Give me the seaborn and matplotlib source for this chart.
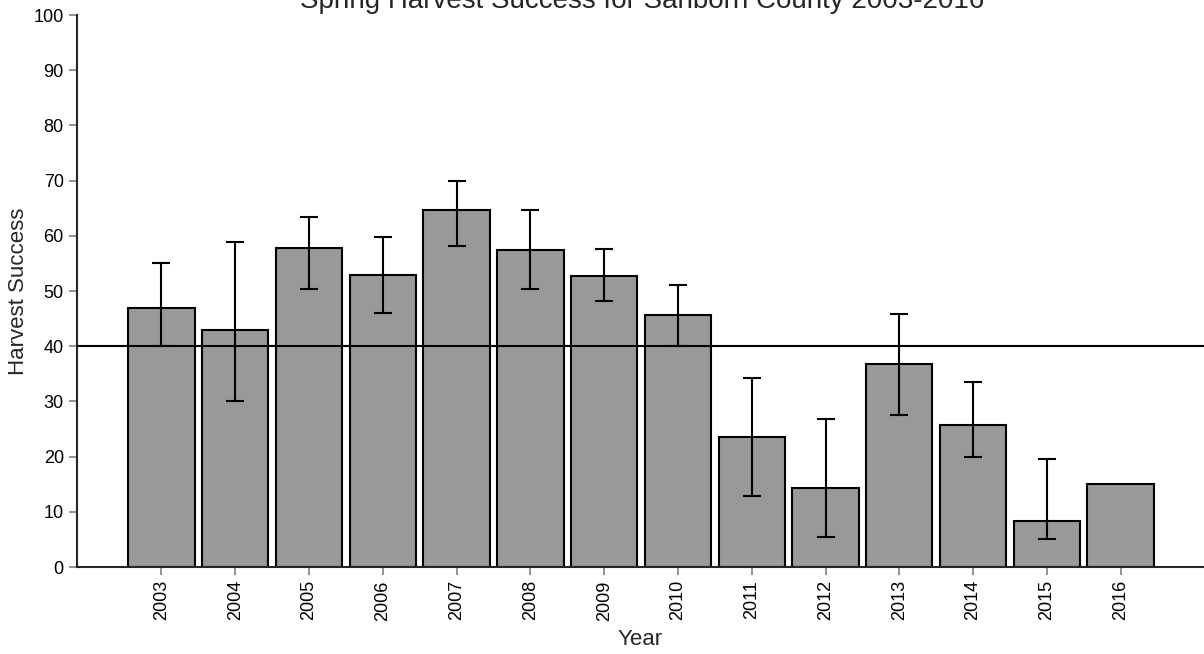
import numpy as np
import pandas as pd
import matplotlib
matplotlib.use("Agg")
import matplotlib.pyplot as plt
import seaborn as sns

years = ["2003", "2004", "2005", "2006", "2007", "2008", "2009",
         "2010", "2011", "2012", "2013", "2014", "2015", "2016"]
success = [47.0, 42.9, 57.7, 52.9, 64.7, 57.5, 52.8,
           45.7, 23.6, 14.3, 36.7, 25.8, 8.4, 15.0]
ci_upper = [55.0, 58.8, 63.4, 59.8, 70.0, 64.6, 57.6,
            51.1, 34.2, 26.9, 45.8, 33.5, 19.6, np.nan]
ci_lower = [40.0, 30.0, 50.4, 46.1, 58.2, 50.4, 48.1,
            40.1, 12.9, 5.4, 27.5, 20.0, 5.0, np.nan]
goal = 40

sns.set_style("ticks")
plt.rcParams['font.family'] = ['Liberation Sans', 'DejaVu Sans']

df = pd.DataFrame({"Year": years, "Success": success,
                   "hi": ci_upper, "lo": ci_lower})

fig = plt.figure(figsize=(12.04, 6.54), dpi=100)
ax = fig.add_axes([77 / 1204, 87 / 654, (1204 - 77) / 1204, 552 / 654])

sns.barplot(data=df, x="Year", y="Success", color="#999999", width=0.9,
            edgecolor="black", linewidth=1.5, saturation=1, ax=ax)

# asymmetric confidence intervals
pos = np.arange(len(years))
yerr = np.vstack([df["Success"] - df["lo"], df["hi"] - df["Success"]])
ax.errorbar(pos, df["Success"], yerr=yerr, fmt="none", ecolor="black",
            elinewidth=1.5, capsize=6.5, capthick=1.5, zorder=4)

ax.axhline(goal, color="black", linewidth=1.5, zorder=5)

ax.set_ylim(0, 100)
ax.set_xlim(-1.145, 14.13)
ax.set_yticks(range(0, 101, 10))
ax.tick_params(axis="both", colors="#808080", length=5.5, width=1.2,
               labelcolor="black", labelsize=13, pad=4)
ax.tick_params(axis="x", labelrotation=90)
ax.set_xlabel("Year", fontsize=16, labelpad=6)
ax.set_ylabel("Harvest Success", fontsize=16, labelpad=3)
for s in ["top", "right"]:
    ax.spines[s].set_visible(False)
ax.spines["left"].set_linewidth(1.5)
ax.spines["bottom"].set_linewidth(1.5)

fig.text(642 / 1204, 1 - 8 / 654,
         "Spring Harvest Success for Sanborn County 2003-2016",
         ha="center", va="baseline", fontsize=20)

fig.savefig("out.png", dpi=100)
